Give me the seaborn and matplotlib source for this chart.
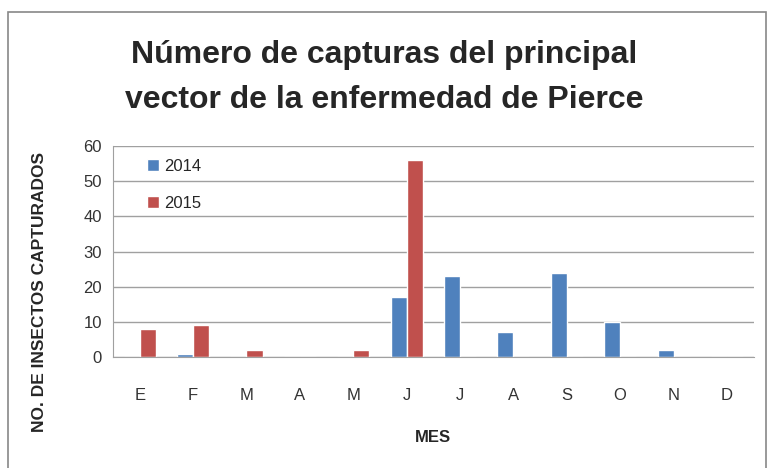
import pandas as pd
import seaborn as sns
import matplotlib.pyplot as plt
from matplotlib.patches import Rectangle

# data
meses = ['E', 'F', 'M', 'A', 'M', 'J', 'J', 'A', 'S', 'O', 'N', 'D']
capturas_2014 = [0, 1, 0, 0, 0, 17, 23, 7, 24, 10, 2, 0]
capturas_2015 = [8, 9, 2, 0, 2, 56, 0, 0, 0, 0, 0, 0]
anios = ['2014', '2015']

df = pd.DataFrame({
    'mes': list(range(12)) * 2,
    'anio': [anios[0]] * 12 + [anios[1]] * 12,
    'total': capturas_2014 + capturas_2015,
})

sns.set_style('white')
plt.rcParams['font.family'] = ['Liberation Sans', 'DejaVu Sans']

fig = plt.figure(figsize=(7.69, 4.68), dpi=100)
ax = fig.add_axes([0.147, 0.237, 0.833, 0.451])

sns.barplot(data=df, x='mes', y='total', hue='anio', order=list(range(12)),
            hue_order=anios, palette=['#4F81BD', '#C0504D'], width=0.6,
            saturation=1, ax=ax)

ax.set_ylim(0, 60)
ax.set_yticks(range(0, 61, 10))
ax.yaxis.grid(True, color='#A0A0A0', linewidth=1)
ax.set_axisbelow(True)
ax.set_xticks(range(12))
ax.set_xticklabels(meses)
ax.tick_params(axis='x', length=0, pad=22, labelsize=12, colors='#333333')
ax.tick_params(axis='y', length=0, pad=8, labelsize=12, colors='#333333')
for s in ['top', 'right']:
    ax.spines[s].set_visible(False)
for s in ['left', 'bottom']:
    ax.spines[s].set_color('#A0A0A0')

ax.set_xlabel('MES', fontsize=12, fontweight='bold')
ax.xaxis.set_label_coords(0.5, -0.345)
ax.set_ylabel('NO. DE INSECTOS CAPTURADOS', fontsize=12.5, fontweight='bold')
ax.yaxis.set_label_coords(-0.103, 0.31)

leg = ax.legend(loc='upper left', frameon=False, fontsize=12, labelspacing=1.3,
                handlelength=0.7, handleheight=0.7, handletextpad=0.3,
                bbox_to_anchor=(0.03, 1.01))

fig.text(0.5, 0.835, 'Número de capturas del principal\nvector de la enfermedad de Pierce',
         ha='center', va='center', fontsize=23, fontweight='bold', linespacing=1.65)

fig.patches.append(Rectangle((0.011, -0.05), 0.985, 1.025, transform=fig.transFigure,
                             fill=False, edgecolor='#888888', linewidth=1.2))

fig.savefig('out.png', dpi=100)
